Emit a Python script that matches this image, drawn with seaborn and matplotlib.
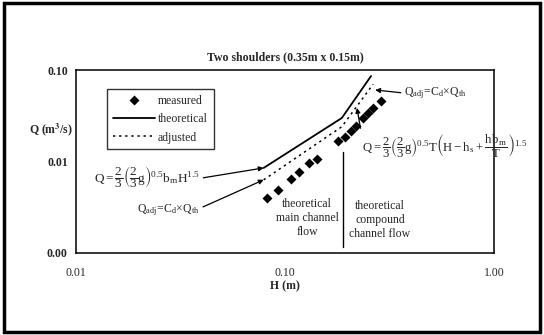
import numpy as np
import pandas as pd
import matplotlib
matplotlib.use("Agg")
import matplotlib.pyplot as plt
import matplotlib.ticker as mticker
from matplotlib.patches import Rectangle
import seaborn as sns

# values (log-log, H in m, Q in m3/s)
H_measured = [0.082, 0.093, 0.107, 0.117, 0.130, 0.142, 0.179, 0.194,
              0.207, 0.219, 0.236, 0.250, 0.264, 0.288]
Q_measured = [0.0040, 0.0049, 0.0064, 0.0077, 0.0096, 0.0106, 0.0168, 0.0185,
              0.0216, 0.0244, 0.0299, 0.0339, 0.0385, 0.0458]

H_theoretical = [0.079, 0.187, 0.258]
Q_theoretical = [0.0085, 0.0299, 0.0859]

H_adjusted = [0.079, 0.187, 0.264]
Q_adjusted = [0.0063, 0.0240, 0.0700]

H_split = 0.19          # main channel / compound channel boundary
x_ticks = [0.01, 0.1, 1.0]
y_ticks = [0.001, 0.01, 0.1]

measured = pd.DataFrame({"H": H_measured, "Q": Q_measured})
theo = pd.DataFrame({"H": H_theoretical, "Q": Q_theoretical})
adj = pd.DataFrame({"H": H_adjusted, "Q": Q_adjusted})

sns.set_style("white")
plt.rcParams["font.family"] = ["Liberation Serif", "DejaVu Serif"]
plt.rcParams["mathtext.fontset"] = "stix"
plt.rcParams["mathtext.default"] = "regular"
plt.rcParams["font.size"] = 8

fig = plt.figure(figsize=(5.44, 3.35), dpi=100)
ax = fig.add_axes([0.140, 0.245, 0.768, 0.546])

sns.scatterplot(data=measured, x="H", y="Q", marker="D", s=26, color="black",
                edgecolor="black", linewidth=0, label="measured", ax=ax, zorder=3)
sns.lineplot(data=theo, x="H", y="Q", color="black", linewidth=1.3,
             label="theoretical", ax=ax, sort=False)
sns.lineplot(data=adj, x="H", y="Q", color="black", linewidth=1.1,
             linestyle=(0, (1.5, 2.5)), label="adjusted", ax=ax, sort=False)

ax.set_xscale("log")
ax.set_yscale("log")
ax.set_xlim(0.01, 1.0)
ax.set_ylim(0.001, 0.1)
ax.set_xticks(x_ticks)
ax.set_yticks(y_ticks)
ax.xaxis.set_minor_locator(mticker.NullLocator())
ax.yaxis.set_minor_locator(mticker.NullLocator())
fmt = mticker.FuncFormatter(lambda v, p: f"{v:.2f}")
ax.xaxis.set_major_formatter(fmt)
ax.yaxis.set_major_formatter(fmt)
ax.tick_params(axis="both", direction="out", length=4, width=1, color="black",
               labelsize=8.5, pad=6)
ax.tick_params(axis="y", pad=2)
for lab in ax.get_yticklabels():
    lab.set_fontweight("bold")
for sp in ax.spines.values():
    sp.set_color("black")
    sp.set_linewidth(1.1)

ax.set_title("Two shoulders (0.35m x 0.15m)", fontsize=8.5, fontweight="bold", pad=7)
ax.set_xlabel("H (m)", fontsize=8.5, fontweight="bold", labelpad=1)
ax.set_ylabel(r"Q (m$^\mathbf{3}$/s)", fontsize=8.5, fontweight="bold", rotation=0,
              ha="center", va="center")
ax.yaxis.set_label_coords(-0.06, 0.672)

leg = ax.legend(loc="upper left", bbox_to_anchor=(0.074, 0.898), frameon=True,
                fancybox=False, edgecolor="black", fontsize=8.5, handlelength=3.6,
                handletextpad=0.2, borderpad=0.5, labelspacing=0.55, borderaxespad=0)
leg.get_frame().set_linewidth(1.0)

# region boundary and labels
ax.axvline(H_split, ymin=0.033, ymax=0.552, color="black", linewidth=1)
ax.text(0.553, 0.19, "theoretical\nmain channel\nflow", transform=ax.transAxes,
        ha="center", va="center", fontsize=8.5, linespacing=1.25)
ax.text(0.727, 0.18, "theoretical\ncompound\nchannel flow", transform=ax.transAxes,
        ha="center", va="center", fontsize=8.5, linespacing=1.25)

arrow = dict(arrowstyle="-|>", color="black", lw=0.9, mutation_scale=7,
             shrinkA=0, shrinkB=0)

ax.annotate(r"$Q=\dfrac{2}{3}\left(\dfrac{2}{3}g\right)^{0.5}b_mH^{1.5}$",
            xy=(H_theoretical[0], Q_theoretical[0]), xycoords="data",
            xytext=(0.043, 0.415), textcoords="axes fraction",
            ha="left", va="center", fontsize=9.5,
            arrowprops=dict(arrow, relpos=(1.0, 0.45)))
ax.annotate(r"$Q_{adj}\!=\!C_d\!\times\!Q_{th}$",
            xy=(H_adjusted[0], Q_adjusted[0]), xycoords="data",
            xytext=(0.146, 0.235), textcoords="axes fraction",
            ha="left", va="center", fontsize=8.5,
            arrowprops=dict(arrow, relpos=(1.0, 0.6)))
ax.annotate(r"$Q_{adj}\!=\!C_d\!\times\!Q_{th}$",
            xy=(0.27, 0.0605), xycoords="data",
            xytext=(0.785, 0.874), textcoords="axes fraction",
            ha="left", va="center", fontsize=8.5,
            arrowprops=dict(arrow, relpos=(0.0, 0.5)))
ax.annotate(r"$Q=\dfrac{2}{3}\left(\dfrac{2}{3}g\right)^{0.5}T\left(H-h_s+\dfrac{h\,b_m}{T}\right)^{1.5}$",
            xy=(0.221, 0.0385), xycoords="data",
            xytext=(0.684, 0.59), textcoords="axes fraction",
            ha="left", va="center", fontsize=9.2, annotation_clip=False,
            arrowprops=dict(arrow, relpos=(0.0, 0.8)))

# outer frame around the whole picture
fig.patches.append(Rectangle((0.008, 0.008), 0.984, 0.982, transform=fig.transFigure,
                             fill=False, edgecolor="black", linewidth=2.5))

fig.savefig("out.png", dpi=100)
